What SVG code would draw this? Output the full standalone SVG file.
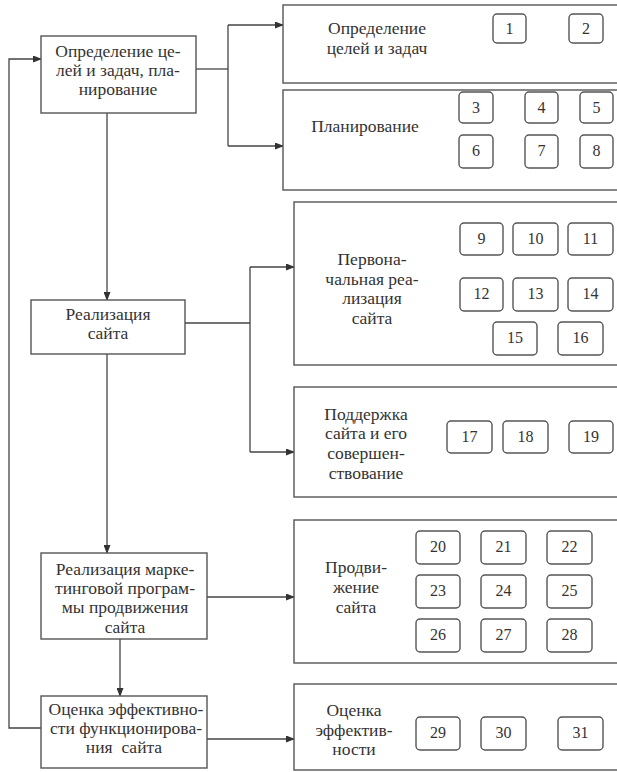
<svg xmlns="http://www.w3.org/2000/svg" width="617" height="772" viewBox="0 0 617 772">
<defs>
<marker id="arr" markerWidth="9" markerHeight="7" refX="8" refY="3.5" orient="auto" markerUnits="userSpaceOnUse">
<path d="M0,0 L9,3.5 L0,7 z" fill="#333"/>
</marker>
<style>
.box{fill:#fff;stroke:#555;stroke-width:1.4}
.num{fill:#fff;stroke:#555;stroke-width:1.4}
.t{font-family:'Liberation Serif',serif;font-size:17.5px;fill:#333;text-anchor:middle}
.n{font-family:'Liberation Serif',serif;font-size:16px;fill:#333;text-anchor:middle}
.ln{fill:none;stroke:#444;stroke-width:1.3}
</style>
</defs>
<rect width="617" height="772" fill="#fff"/>
<g id="connectors">
<polyline class="ln" points="41,728 9,728 9,59 41,59" marker-end="url(#arr)"/>
<line class="ln" x1="107" y1="113" x2="107" y2="300" marker-end="url(#arr)"/>
<line class="ln" x1="196" y1="69" x2="228" y2="69"/>
<line class="ln" x1="228" y1="25" x2="228" y2="146"/>
<line class="ln" x1="228" y1="25" x2="283" y2="25" marker-end="url(#arr)"/>
<line class="ln" x1="228" y1="146" x2="283" y2="146" marker-end="url(#arr)"/>
<line class="ln" x1="185" y1="323" x2="250" y2="323"/>
<line class="ln" x1="250" y1="267" x2="250" y2="452"/>
<line class="ln" x1="250" y1="267" x2="294" y2="267" marker-end="url(#arr)"/>
<line class="ln" x1="250" y1="452" x2="294" y2="452" marker-end="url(#arr)"/>
<line class="ln" x1="107" y1="354" x2="107" y2="553" marker-end="url(#arr)"/>
<line class="ln" x1="207" y1="597" x2="294" y2="597" marker-end="url(#arr)"/>
<line class="ln" x1="120" y1="639" x2="120" y2="696" marker-end="url(#arr)"/>
<line class="ln" x1="207" y1="739" x2="294" y2="739" marker-end="url(#arr)"/>
</g>
<g id="nodeA">
<rect class="box" x="41" y="36" width="155" height="77"/>
<text class="t" x="118" y="57">Определение це-</text>
<text class="t" x="118" y="76">лей и задач, пла-</text>
<text class="t" x="118" y="95">нирование</text>
</g>
<g id="nodeB">
<rect class="box" x="31" y="300" width="154" height="54"/>
<text class="t" x="108" y="320">Реализация</text>
<text class="t" x="108" y="339">сайта</text>
</g>
<g id="nodeC">
<rect class="box" x="41" y="553" width="166" height="86"/>
<text class="t" x="125" y="575">Реализация марке-</text>
<text class="t" x="125" y="594">тинговой програм-</text>
<text class="t" x="125" y="613">мы продвижения</text>
<text class="t" x="125" y="633">сайта</text>
</g>
<g id="nodeD">
<rect class="box" x="41" y="696" width="166" height="72"/>
<text class="t" x="126" y="715">Оценка эффективно-</text>
<text class="t" x="126" y="734">сти функционирова-</text>
<text class="t" x="124" y="753" xml:space="preserve">ния  сайта</text>
</g>
<g id="nodeR1">
<rect class="box" x="283" y="5" width="340" height="78"/>
<text class="t" x="377" y="34">Определение</text>
<text class="t" x="377" y="54">целей и задач</text>
<rect class="num" x="493" y="14" width="33" height="29" rx="4"/><text class="n" x="509.5" y="34">1</text>
<rect class="num" x="569" y="14" width="34" height="29" rx="4"/><text class="n" x="586" y="34">2</text>
</g>
<g id="nodeR2">
<rect class="box" x="283" y="90" width="340" height="100"/>
<text class="t" x="365" y="132">Планирование</text>
<rect class="num" x="459" y="92" width="34" height="31" rx="4"/><text class="n" x="476" y="113">3</text>
<rect class="num" x="525" y="92" width="33" height="31" rx="4"/><text class="n" x="541.5" y="113">4</text>
<rect class="num" x="580" y="92" width="33" height="31" rx="4"/><text class="n" x="596.5" y="113">5</text>
<rect class="num" x="459" y="135" width="34" height="33" rx="4"/><text class="n" x="476" y="156">6</text>
<rect class="num" x="525" y="135" width="33" height="33" rx="4"/><text class="n" x="541.5" y="156">7</text>
<rect class="num" x="580" y="135" width="33" height="33" rx="4"/><text class="n" x="596.5" y="156">8</text>
</g>
<g id="nodeR3">
<rect class="box" x="294" y="202" width="330" height="163"/>
<text class="t" x="372" y="265">Первона-</text>
<text class="t" x="372" y="285">чальная реа-</text>
<text class="t" x="372" y="304">лизация</text>
<text class="t" x="372" y="324">сайта</text>
<rect class="num" x="460" y="223" width="43" height="32" rx="4"/><text class="n" x="481.5" y="244">9</text>
<rect class="num" x="513" y="223" width="45" height="32" rx="4"/><text class="n" x="535.5" y="244">10</text>
<rect class="num" x="568" y="223" width="45" height="32" rx="4"/><text class="n" x="590.5" y="244">11</text>
<rect class="num" x="460" y="278" width="43" height="33" rx="4"/><text class="n" x="481.5" y="299">12</text>
<rect class="num" x="513" y="278" width="45" height="33" rx="4"/><text class="n" x="535.5" y="299">13</text>
<rect class="num" x="568" y="278" width="45" height="33" rx="4"/><text class="n" x="590.5" y="299">14</text>
<rect class="num" x="493" y="322" width="44" height="33" rx="4"/><text class="n" x="515" y="343">15</text>
<rect class="num" x="558" y="322" width="45" height="33" rx="4"/><text class="n" x="580.5" y="343">16</text>
</g>
<g id="nodeR4">
<rect class="box" x="294" y="387" width="330" height="110"/>
<text class="t" x="366" y="420">Поддержка</text>
<text class="t" x="366" y="439">сайта и его</text>
<text class="t" x="366" y="459">совершен-</text>
<text class="t" x="366" y="479">ствование</text>
<rect class="num" x="447" y="421" width="45" height="32" rx="4"/><text class="n" x="469.5" y="442">17</text>
<rect class="num" x="503" y="421" width="45" height="32" rx="4"/><text class="n" x="525.5" y="442">18</text>
<rect class="num" x="569" y="421" width="44" height="32" rx="4"/><text class="n" x="591" y="442">19</text>
</g>
<g id="nodeR5">
<rect class="box" x="294" y="520" width="330" height="143"/>
<text class="t" x="356" y="573">Продви-</text>
<text class="t" x="356" y="593">жение</text>
<text class="t" x="356" y="613">сайта</text>
<rect class="num" x="416" y="531" width="44" height="33" rx="4"/><text class="n" x="438" y="552">20</text>
<rect class="num" x="481" y="531" width="45" height="33" rx="4"/><text class="n" x="503.5" y="552">21</text>
<rect class="num" x="547" y="531" width="45" height="33" rx="4"/><text class="n" x="569.5" y="552">22</text>
<rect class="num" x="416" y="575" width="44" height="33" rx="4"/><text class="n" x="438" y="596">23</text>
<rect class="num" x="481" y="575" width="45" height="33" rx="4"/><text class="n" x="503.5" y="596">24</text>
<rect class="num" x="547" y="575" width="45" height="33" rx="4"/><text class="n" x="569.5" y="596">25</text>
<rect class="num" x="416" y="619" width="44" height="33" rx="4"/><text class="n" x="438" y="640">26</text>
<rect class="num" x="481" y="619" width="45" height="33" rx="4"/><text class="n" x="503.5" y="640">27</text>
<rect class="num" x="547" y="619" width="45" height="33" rx="4"/><text class="n" x="569.5" y="640">28</text>
</g>
<g id="nodeR6">
<rect class="box" x="294" y="684" width="330" height="86"/>
<text class="t" x="354" y="716">Оценка</text>
<text class="t" x="354" y="736">эффектив-</text>
<text class="t" x="354" y="755">ности</text>
<rect class="num" x="416" y="717" width="44" height="33" rx="4"/><text class="n" x="438" y="738">29</text>
<rect class="num" x="481" y="717" width="45" height="33" rx="4"/><text class="n" x="503.5" y="738">30</text>
<rect class="num" x="558" y="717" width="45" height="33" rx="4"/><text class="n" x="580.5" y="738">31</text>
</g>
</svg>
